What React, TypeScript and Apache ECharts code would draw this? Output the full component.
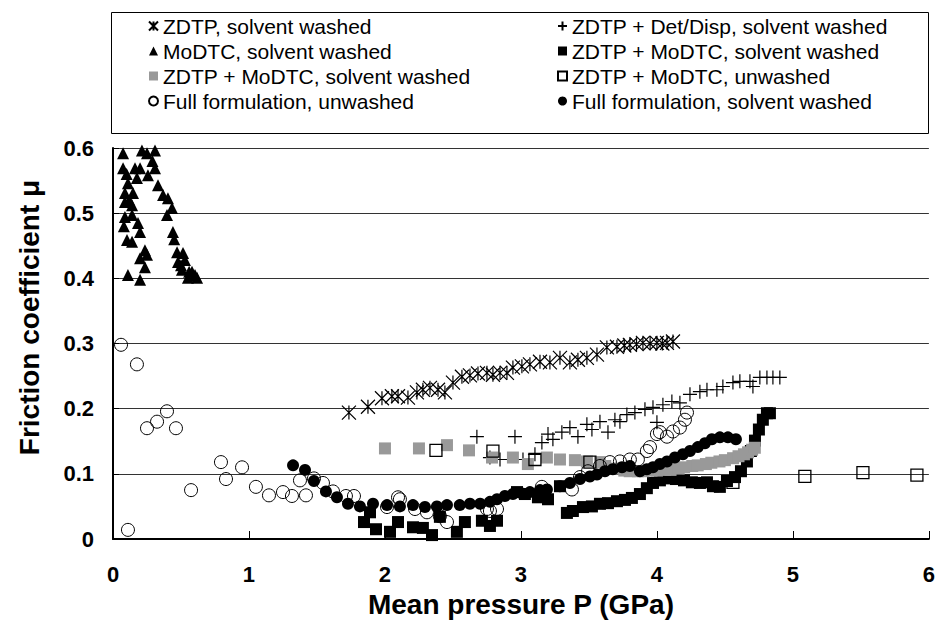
import React, { useEffect, useRef } from "react";
import * as echarts from "echarts";

type P = [number, number];

const xTickLabels = ["0", "1", "2", "3", "4", "5", "6"];
const yTickLabels = ["0", "0.1", "0.2", "0.3", "0.4", "0.5", "0.6"];

const zdtpSolventWashed: P[] = [
  [1.735, 0.194], [1.875, 0.203], [1.978, 0.216], [2.051, 0.219], [2.096, 0.219],
  [2.169, 0.217], [2.235, 0.225], [2.279, 0.229], [2.331, 0.232], [2.39, 0.229],
  [2.441, 0.225], [2.5, 0.24], [2.566, 0.249], [2.625, 0.251], [2.684, 0.254],
  [2.75, 0.255], [2.794, 0.252], [2.846, 0.255], [2.897, 0.255], [2.941, 0.263],
  [3.007, 0.265], [3.066, 0.268], [3.14, 0.272], [3.213, 0.271], [3.287, 0.278],
  [3.36, 0.271], [3.419, 0.275], [3.485, 0.278], [3.559, 0.283], [3.632, 0.294],
  [3.706, 0.295], [3.76, 0.297], [3.801, 0.298], [3.85, 0.299], [3.897, 0.301],
  [3.95, 0.3], [4.0, 0.301], [4.04, 0.3], [4.074, 0.301], [4.118, 0.303],
];

const zdtpDetDisp: P[] = [
  [2.676, 0.157], [2.956, 0.157], [2.772, 0.125], [2.846, 0.122], [3.015, 0.122],
  [3.103, 0.13], [3.154, 0.148], [3.199, 0.161], [3.235, 0.153], [3.301, 0.164],
  [3.36, 0.171], [3.419, 0.157], [3.485, 0.176], [3.522, 0.168], [3.581, 0.18],
  [3.64, 0.164], [3.691, 0.183], [3.728, 0.18], [3.779, 0.191], [3.838, 0.194],
  [3.912, 0.199], [3.971, 0.202], [4.0, 0.179], [4.044, 0.206], [4.11, 0.211],
  [4.169, 0.209], [4.243, 0.222], [4.316, 0.226], [4.368, 0.229], [4.441, 0.229],
  [4.485, 0.234], [4.559, 0.24], [4.61, 0.242], [4.684, 0.242], [4.706, 0.234],
  [4.757, 0.248], [4.809, 0.248], [4.853, 0.248], [4.904, 0.248],
];

const moDTCSolventWashed: P[] = [
  [0.074, 0.592], [0.213, 0.596], [0.25, 0.592], [0.309, 0.596], [0.074, 0.569],
  [0.162, 0.569], [0.199, 0.569], [0.309, 0.569], [0.257, 0.558], [0.11, 0.546],
  [0.176, 0.554], [0.331, 0.543], [0.088, 0.531], [0.147, 0.531], [0.368, 0.528],
  [0.404, 0.523], [0.088, 0.517], [0.14, 0.512], [0.397, 0.497], [0.434, 0.508],
  [0.088, 0.494], [0.14, 0.497], [0.184, 0.485], [0.199, 0.471], [0.441, 0.471],
  [0.103, 0.459], [0.14, 0.456], [0.235, 0.443], [0.471, 0.44], [0.515, 0.439],
  [0.199, 0.431], [0.25, 0.436], [0.478, 0.425], [0.529, 0.428], [0.235, 0.417],
  [0.507, 0.413], [0.581, 0.41], [0.603, 0.405], [0.11, 0.405], [0.199, 0.398],
  [0.551, 0.401], [0.618, 0.401], [0.08, 0.48], [0.12, 0.52], [0.1, 0.56],
  [0.29, 0.58], [0.45, 0.46], [0.5, 0.42], [0.56, 0.41],
];

const zdtpMoDTCSolventWashedBlack: P[] = [
  [1.846, 0.026], [1.89, 0.041], [1.934, 0.015], [2.037, 0.011], [2.096, 0.026],
  [2.206, 0.018], [2.279, 0.017], [2.346, 0.006], [2.404, 0.034], [2.529, 0.011],
  [2.588, 0.026], [2.713, 0.028], [2.772, 0.02], [2.824, 0.028], [2.971, 0.072],
  [3.029, 0.069], [3.125, 0.064], [3.199, 0.061], [3.287, 0.081], [3.338, 0.04],
  [3.382, 0.043], [3.456, 0.049], [3.522, 0.05], [3.581, 0.054], [3.64, 0.055],
  [3.706, 0.058], [3.765, 0.06], [3.816, 0.063], [3.875, 0.069], [3.926, 0.078],
  [3.971, 0.086], [4.022, 0.09], [4.081, 0.093], [4.14, 0.092], [4.199, 0.09],
  [4.257, 0.087], [4.316, 0.086], [4.368, 0.087], [4.412, 0.081], [4.463, 0.08],
  [4.515, 0.089], [4.574, 0.095], [4.618, 0.104], [4.662, 0.119], [4.691, 0.135],
  [4.721, 0.151], [4.75, 0.168], [4.779, 0.183], [4.809, 0.193], [4.831, 0.193],
];

const zdtpMoDTCSolventWashedGrey: P[] = [
  [2.0, 0.139], [2.25, 0.139], [2.456, 0.144], [2.618, 0.136], [2.787, 0.125],
  [2.941, 0.125], [3.051, 0.115], [3.191, 0.125], [3.287, 0.122], [3.397, 0.121],
  [3.485, 0.119], [3.581, 0.118], [3.62, 0.112], [3.7, 0.108], [3.76, 0.105],
  [3.8, 0.104], [3.86, 0.104], [3.9, 0.104], [3.96, 0.105], [4.0, 0.105],
  [4.06, 0.106], [4.1, 0.106], [4.16, 0.108], [4.2, 0.11], [4.26, 0.112],
  [4.3, 0.113], [4.36, 0.115], [4.4, 0.117], [4.46, 0.119], [4.5, 0.121],
  [4.56, 0.124], [4.6, 0.127], [4.64, 0.13], [4.67, 0.133], [4.7, 0.137],
  [4.72, 0.14],
];

const zdtpMoDTCUnwashed: P[] = [
  [2.375, 0.136], [2.794, 0.135], [3.103, 0.122], [3.507, 0.118], [4.559, 0.087],
  [5.088, 0.096], [5.515, 0.102], [5.912, 0.098],
];

const fullFormulationUnwashed: P[] = [
  [0.059, 0.298], [0.176, 0.268], [0.11, 0.014], [0.25, 0.17], [0.324, 0.18],
  [0.397, 0.196], [0.463, 0.17], [0.574, 0.075], [0.794, 0.118], [0.831, 0.092],
  [0.949, 0.11], [1.051, 0.08], [1.147, 0.067], [1.25, 0.072], [1.316, 0.066],
  [1.375, 0.09], [1.419, 0.067], [1.478, 0.093], [1.544, 0.086], [1.618, 0.073],
  [1.713, 0.066], [1.772, 0.066], [2.015, 0.049], [2.096, 0.064], [2.11, 0.061],
  [2.221, 0.046], [2.309, 0.041], [2.404, 0.035], [2.456, 0.026], [2.75, 0.046],
  [2.772, 0.043], [2.824, 0.046], [3.154, 0.08], [3.375, 0.076], [3.434, 0.095],
  [3.493, 0.104], [3.581, 0.112], [3.654, 0.118], [3.728, 0.119], [3.801, 0.122],
  [3.86, 0.122], [3.926, 0.135], [3.949, 0.141], [4.0, 0.161], [4.022, 0.164],
  [4.074, 0.157], [4.118, 0.165], [4.169, 0.171], [4.206, 0.183], [4.221, 0.194],
];

const fullFormulationSolventWashed: P[] = [
  [1.324, 0.113], [1.412, 0.106], [1.478, 0.089], [1.566, 0.073], [1.647, 0.064],
  [1.728, 0.054], [1.816, 0.05], [1.912, 0.054], [2.015, 0.052], [2.11, 0.05],
  [2.206, 0.052], [2.294, 0.049], [2.382, 0.05], [2.456, 0.052], [2.55, 0.052],
  [2.625, 0.054], [2.7, 0.054], [2.772, 0.057], [2.824, 0.061], [2.882, 0.066],
  [2.941, 0.069], [3.007, 0.07], [3.066, 0.072], [3.14, 0.075], [3.191, 0.076],
  [3.287, 0.081], [3.36, 0.086], [3.434, 0.092], [3.507, 0.096], [3.559, 0.099],
  [3.618, 0.104], [3.676, 0.107], [3.743, 0.11], [3.801, 0.112], [3.875, 0.104],
  [3.926, 0.107], [3.971, 0.11], [4.022, 0.115], [4.074, 0.119], [4.132, 0.125],
  [4.191, 0.13], [4.243, 0.135], [4.301, 0.141], [4.353, 0.147], [4.404, 0.153],
  [4.463, 0.156], [4.522, 0.156], [4.581, 0.153],
];

const NAMES = [
  "ZDTP, solvent washed",
  "ZDTP + Det/Disp, solvent washed",
  "MoDTC, solvent washed",
  "ZDTP + MoDTC, solvent washed",
  "ZDTP + MoDTC, solvent washed ",
  "ZDTP + MoDTC, unwashed",
  "Full formulation, unwashed",
  "Full formulation, solvent washed",
];

const FONT = '"Liberation Sans", Arial, Helvetica, sans-serif';
const ASTERISK = "path://M0,0L10,10M10,0L0,10M5,0L5,10";
const PLUS = "path://M5,0L5,10M0,5L10,5";
const CLEAR = "rgba(0,0,0,0)";

export default function App() {
  const ref = useRef<HTMLDivElement>(null);
  useEffect(() => {
    const chart = echarts.init(ref.current!, null, { renderer: "svg" });
    const base = { type: "scatter", silent: true };
    const legendText = { fontFamily: FONT, fontSize: 21, color: "#000", lineHeight: 22 };
    chart.setOption({
      animation: false,
      backgroundColor: "#ffffff",
      grid: { left: 113, right: 9, top: 148, bottom: 83, containLabel: false },
      graphic: [
        {
          type: "rect",
          shape: { x: 111.5, y: 12.5, width: 817, height: 121 },
          style: { fill: "none", stroke: "#000", lineWidth: 1 },
          z: 1,
        },
      ],
      legend: [
        {
          left: 143, top: 10, orient: "vertical", itemWidth: 9, itemHeight: 9, itemGap: 3,
          selectedMode: false,
          data: [NAMES[0], NAMES[2], NAMES[4], NAMES[6]],
          textStyle: legendText,
        },
        {
          left: 552, top: 10, orient: "vertical", itemWidth: 9, itemHeight: 9, itemGap: 3,
          selectedMode: false,
          data: [NAMES[1], NAMES[3], NAMES[5], NAMES[7]],
          textStyle: legendText,
        },
      ],
      xAxis: {
        type: "value", min: 0, max: 6, interval: 1,
        name: "Mean pressure P (GPa)", nameLocation: "middle", nameGap: 51,
        nameTextStyle: { fontFamily: FONT, fontSize: 28, fontWeight: "bold", color: "#000" },
        axisLine: { onZero: false, lineStyle: { color: "#000", width: 2 } },
        axisTick: { show: true, inside: true, length: 8, lineStyle: { color: "#000", width: 1 } },
        axisLabel: {
          fontFamily: FONT, fontSize: 22, fontWeight: "bold", color: "#000", margin: 24,
          formatter: (v: number) => xTickLabels[Math.round(v)] ?? "",
        },
        splitLine: { show: false },
      },
      yAxis: {
        type: "value", min: 0, max: 0.6, interval: 0.1,
        name: "Friction coefficient μ", nameLocation: "middle", nameGap: 70, nameRotate: 90,
        nameTextStyle: {
          fontFamily: FONT, fontSize: 28, fontWeight: "bold", color: "#000",
          padding: [0, 0, 0, 52],
        },
        axisLine: { onZero: false, lineStyle: { color: "#000", width: 2 } },
        axisTick: { show: true, inside: true, length: 6, lineStyle: { color: "#000" } },
        axisLabel: {
          fontFamily: FONT, fontSize: 22, fontWeight: "bold", color: "#000", margin: 19,
          formatter: (v: number) => yTickLabels[Math.round(v * 10)] ?? "",
        },
        splitLine: { show: true, lineStyle: { color: "#333", width: 1 } },
      },
      series: [
        { ...base, name: NAMES[0], data: zdtpSolventWashed, symbol: ASTERISK, symbolSize: 14,
          itemStyle: { color: CLEAR, borderColor: "#000", borderWidth: 1.2, opacity: 1 } },
        { ...base, name: NAMES[1], data: zdtpDetDisp, symbol: PLUS, symbolSize: 14,
          itemStyle: { color: CLEAR, borderColor: "#000", borderWidth: 1.2, opacity: 1 } },
        { ...base, name: NAMES[2], data: moDTCSolventWashed, symbol: "triangle", symbolSize: 12,
          itemStyle: { color: "#000", opacity: 1 } },
        { ...base, name: NAMES[3], data: zdtpMoDTCSolventWashedBlack, symbol: "rect", symbolSize: 12,
          itemStyle: { color: "#000", opacity: 1 } },
        { ...base, name: NAMES[4], data: zdtpMoDTCSolventWashedGrey, symbol: "rect", symbolSize: 12,
          itemStyle: { color: "#999999", opacity: 1 } },
        { ...base, name: NAMES[5], data: zdtpMoDTCUnwashed, symbol: "rect", symbolSize: 12,
          itemStyle: { color: CLEAR, borderColor: "#000", borderWidth: 1.3, opacity: 1 } },
        { ...base, name: NAMES[6], data: fullFormulationUnwashed, symbol: "circle", symbolSize: 13,
          itemStyle: { color: CLEAR, borderColor: "#000", borderWidth: 1, opacity: 1 } },
        { ...base, name: NAMES[7], data: fullFormulationSolventWashed, symbol: "circle", symbolSize: 12,
          itemStyle: { color: "#000", opacity: 1 } },
      ],
    });
    return () => chart.dispose();
  }, []);
  return (
    <div
      ref={ref}
      style={{ position: "fixed", left: 0, top: 0, width: 938, height: 623, background: "#fff" }}
    />
  );
}
